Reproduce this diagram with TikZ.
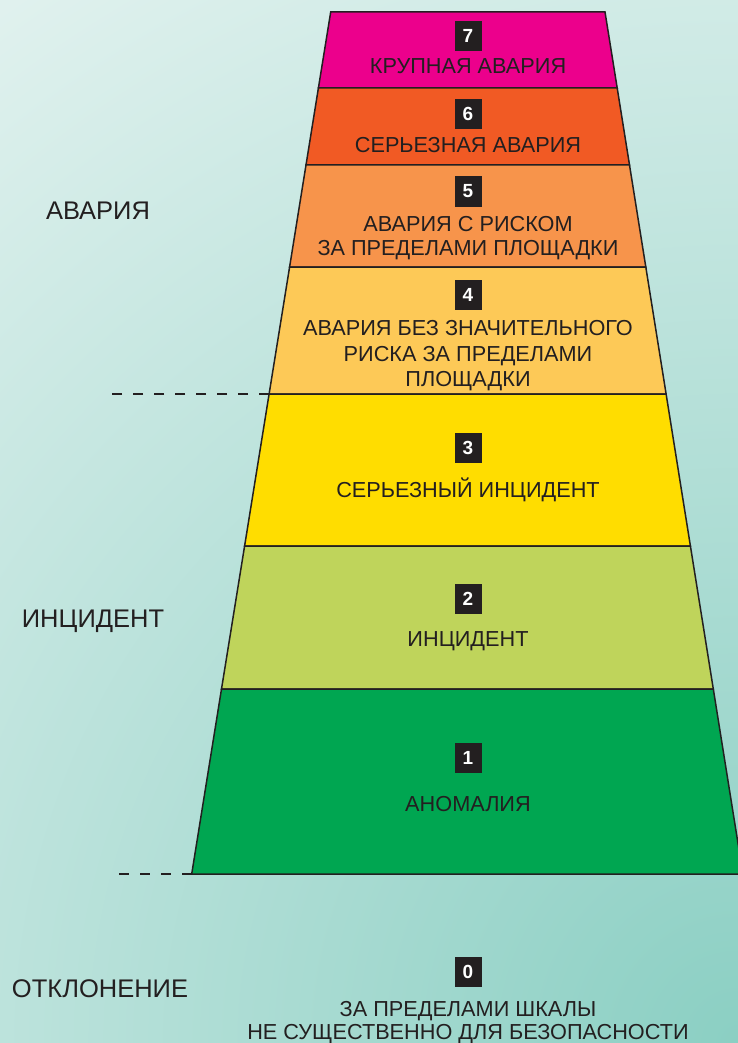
\documentclass[tikz,border=0pt]{standalone}
\usepackage{fontspec}
\setmainfont{Liberation Sans}
\definecolor{bgLight}{HTML}{E2F2EF}
\definecolor{bgDark}{HTML}{8BCFC3}
\definecolor{edge}{HTML}{231F20}
\definecolor{txt}{HTML}{231F20}
\definecolor{cSeven}{HTML}{EC008C}
\definecolor{cSix}{HTML}{F15A24}
\definecolor{cFive}{HTML}{F7944B}
\definecolor{cFour}{HTML}{FDC957}
\definecolor{cThree}{HTML}{FFDD00}
\definecolor{cTwo}{HTML}{BFD45B}
\definecolor{cOne}{HTML}{00A651}
\begin{document}
\begin{tikzpicture}[x=1pt,y=-1pt,
  band/.style={draw=edge, line width=1.5pt, line join=miter},
  numbox/.style={fill=edge, text=white, font=\bfseries\fontsize{19}{19}\selectfont,
    minimum width=27pt, minimum height=30pt, inner sep=0pt},
  lab/.style={text=txt, font=\fontsize{21.7}{21.7}\selectfont, inner sep=0pt, anchor=base},
  side/.style={text=txt, font=\fontsize{25.5}{25.5}\selectfont, inner sep=0pt, anchor=base},
  guide/.style={draw=edge, line width=1.5pt, dash pattern=on 10pt off 11pt}]
\useasboundingbox (0,0) rectangle (738,1043);
\clip (0,0) rectangle (738,1043);
% background
\fill[bgLight] (0,0) rectangle (738,1043);
\shade[inner color=bgDark, outer color=bgLight] (738,1043) circle[radius=1300];
% band corners
\coordinate (l0) at (330.7,12);  \coordinate (r0) at (605.0,12);
\coordinate (l1) at (318.4,88);  \coordinate (r1) at (617.2,88);
\coordinate (l2) at (306.0,165); \coordinate (r2) at (629.5,165);
\coordinate (l3) at (289.6,267); \coordinate (r3) at (645.8,267);
\coordinate (l4) at (269.1,394); \coordinate (r4) at (666.1,394);
\coordinate (l5) at (244.6,546); \coordinate (r5) at (690.4,546);
\coordinate (l6) at (221.5,689); \coordinate (r6) at (713.3,689);
\coordinate (l7) at (191.7,874); \coordinate (r7) at (742.9,874);
% bands
\filldraw[band, fill=cSeven] (l0) -- (r0) -- (r1) -- (l1) -- cycle;
\filldraw[band, fill=cSix]   (l1) -- (r1) -- (r2) -- (l2) -- cycle;
\filldraw[band, fill=cFive]  (l2) -- (r2) -- (r3) -- (l3) -- cycle;
\filldraw[band, fill=cFour]  (l3) -- (r3) -- (r4) -- (l4) -- cycle;
\filldraw[band, fill=cThree] (l4) -- (r4) -- (r5) -- (l5) -- cycle;
\filldraw[band, fill=cTwo]   (l5) -- (r5) -- (r6) -- (l6) -- cycle;
\filldraw[band, fill=cOne]   (l6) -- (r6) -- (r7) -- (l7) -- cycle;
% dashed guides
\coordinate (g1) at (112,394);
\coordinate (g2) at (116,874);
\draw[guide] (l4) -- (g1);
\draw[guide] (l7) -- (g2);
% level 7
\node[numbox] (n7) at (468,36) {7};
\node[lab] (t7) at (468,74) {КРУПНАЯ АВАРИЯ};
% level 6
\node[numbox] (n6) at (468,114) {6};
\node[lab] (t6) at (468,153) {СЕРЬЕЗНАЯ АВАРИЯ};
% level 5
\node[numbox] (n5) at (468,191.5) {5};
\node[lab] (t5a) at (468,231) {АВАРИЯ С РИСКОМ};
\node[lab] (t5b) at (468,255) {ЗА ПРЕДЕЛАМИ ПЛОЩАДКИ};
% level 4
\node[numbox] (n4) at (468,294.5) {4};
\node[lab] (t4a) at (468,335) {АВАРИЯ БЕЗ ЗНАЧИТЕЛЬНОГО};
\node[lab] (t4b) at (468,361) {РИСКА ЗА ПРЕДЕЛАМИ};
\node[lab] (t4c) at (468,386) {ПЛОЩАДКИ};
% level 3
\node[numbox] (n3) at (468,448) {3};
\node[lab] (t3) at (468,497) {СЕРЬЕЗНЫЙ ИНЦИДЕНТ};
% level 2
\node[numbox] (n2) at (468,598.5) {2};
\node[lab] (t2) at (468,646) {ИНЦИДЕНТ};
% level 1
\node[numbox] (n1) at (468,758) {1};
\node[lab] (t1) at (468,811) {АНОМАЛИЯ};
% level 0
\node[numbox] (n0) at (468,972) {0};
\node[lab] (t0a) at (468,1016) {ЗА ПРЕДЕЛАМИ ШКАЛЫ};
\node[lab] (t0b) at (468,1039) {НЕ СУЩЕСТВЕННО ДЛЯ БЕЗОПАСНОСТИ};
% side labels
\node[side] (sA) at (98,219) {АВАРИЯ};
\node[side] (sI) at (93,627) {ИНЦИДЕНТ};
\node[side] (sO) at (100,997) {ОТКЛОНЕНИЕ};
\end{tikzpicture}
\end{document}
